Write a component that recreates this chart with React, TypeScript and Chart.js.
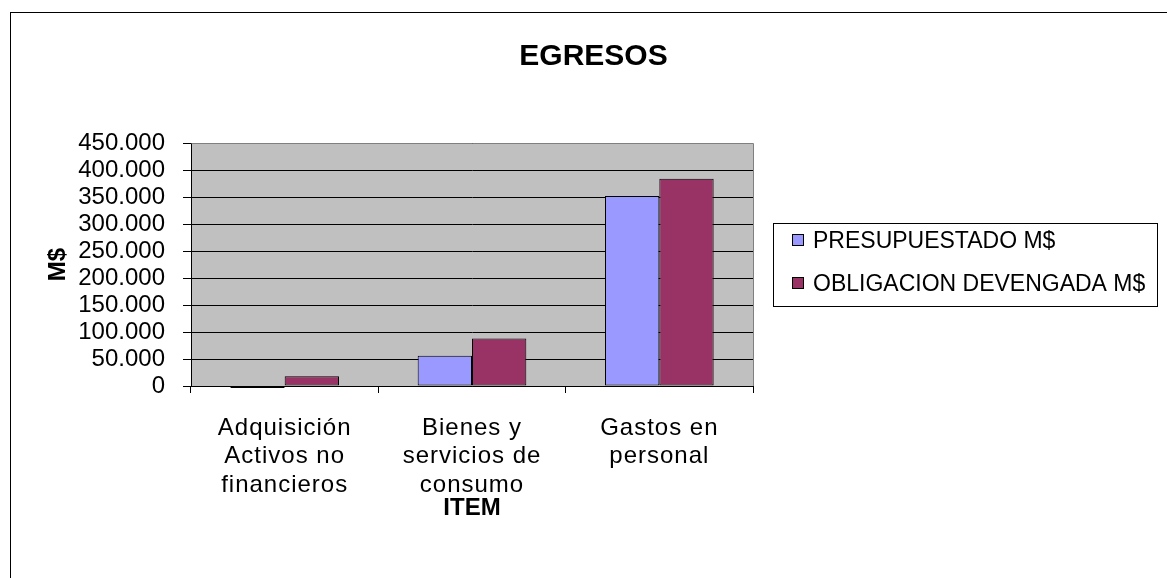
import React, { useEffect, useRef } from "react";
import { Chart, registerables } from "chart.js";

Chart.register(...registerables);

const categories: string[][] = [
  ["Adquisición", "Activos no", "financieros"],
  ["Bienes y", "servicios de", "consumo"],
  ["Gastos en", "personal"],
];
const presupuestado: number[] = [-3500, 56000, 352000];
const obligacion: number[] = [18000, 88000, 384000];
const seriesNames: string[] = ["PRESUPUESTADO M$", "OBLIGACION DEVENGADA M$"];
const yMin = 0;
const yMax = 450000;
const yStep = 50000;

const FONT = "'Liberation Sans', Arial, Helvetica, sans-serif";

const fmt = (v: number) =>
  String(v).replace(/\B(?=(\d{3})+(?!\d))/g, ".");

const framePlugin = {
  id: "frame",
  beforeDraw(chart: any) {
    const { ctx, chartArea: a } = chart;
    ctx.save();
    ctx.fillStyle = "#ffffff";
    ctx.fillRect(0, 0, chart.width, chart.height);
    ctx.fillStyle = "#C0C0C0";
    ctx.fillRect(a.left, a.top, a.right - a.left, a.bottom - a.top);
    ctx.restore();
  },
  afterDraw(chart: any) {
    const { ctx, chartArea: a } = chart;
    ctx.save();
    ctx.strokeStyle = "#808080";
    ctx.lineWidth = 1;
    ctx.beginPath();
    ctx.moveTo(Math.round(a.left) + 0.5, Math.round(a.top) + 0.5);
    ctx.lineTo(Math.round(a.right) + 0.5, Math.round(a.top) + 0.5);
    ctx.lineTo(Math.round(a.right) + 0.5, Math.round(a.bottom));
    ctx.stroke();
    ctx.strokeStyle = "#000000";
    ctx.strokeRect(10.5, 12.5, 3000, 3000);
    const lx = 773.5, ly = 223.5, lw = 384, lh = 83;
    ctx.fillStyle = "#ffffff";
    ctx.fillRect(lx, ly, lw, lh);
    ctx.strokeStyle = "#000000";
    ctx.strokeRect(lx, ly, lw, lh);
    const rows = [241, 284];
    chart.data.datasets.forEach((ds: any, i: number) => {
      const cy = rows[i];
      ctx.fillStyle = ds.backgroundColor;
      ctx.fillRect(792.5, cy - 6.5, 11, 11);
      ctx.strokeStyle = "#000000";
      ctx.strokeRect(792.5, cy - 6.5, 11, 11);
      ctx.fillStyle = "#000000";
      ctx.font = `23px ${FONT}`;
      ctx.textBaseline = "middle";
      ctx.textAlign = "left";
      ctx.fillText(ds.label, 813, cy + 1);
    });
    ctx.restore();
  },
};

export default function App() {
  const ref = useRef<HTMLCanvasElement | null>(null);
  useEffect(() => {
    if (!ref.current) return;
    const chart = new Chart(ref.current, {
      type: "bar",
      data: {
        labels: categories,
        datasets: [
          {
            label: seriesNames[0],
            data: presupuestado,
            backgroundColor: "#9999FF",
            borderColor: "#000000",
            borderWidth: 1,
            borderSkipped: false,
            clip: false,
          } as any,
          {
            label: seriesNames[1],
            data: obligacion,
            backgroundColor: "#993366",
            borderColor: "#000000",
            borderWidth: 1,
            borderSkipped: false,
            clip: false,
          } as any,
        ],
      },
      options: {
        responsive: false,
        animation: false,
        devicePixelRatio: 1,
        layout: { padding: { left: 20, right: 0, top: 0, bottom: 0 } },
        datasets: { bar: { categoryPercentage: 0.58, barPercentage: 1.0 } },
        plugins: {
          legend: { display: false },
          tooltip: { enabled: false },
          title: {
            display: true,
            text: "EGRESOS",
            color: "#000000",
            font: { family: FONT, size: 30, weight: "bold", lineHeight: 1.2 },
            padding: { top: 39, bottom: 68 },
          },
        },
        scales: {
          x: {
            type: "category",
            position: "bottom",
            offset: true,
            grid: {
              offset: true,
              drawOnChartArea: false,
              drawTicks: true,
              tickLength: 7,
              color: "#000000",
            },
            border: { display: true, color: "#000000", width: 1 },
            ticks: {
              color: "#000000",
              font: { family: FONT, size: 24, lineHeight: 1.19 },
              padding: 21,
              maxRotation: 0,
              minRotation: 0,
              autoSkip: false,
            },
            title: {
              display: true,
              text: "ITEM",
              color: "#000000",
              font: { family: FONT, size: 24, weight: "bold", lineHeight: 1.2 },
              padding: { top: 0, bottom: 55.6 },
            },
            afterFit(s: any) {
              s.height = 192;
              if (!s._lsWrapped) {
                const orig = s.drawLabels.bind(s);
                s.drawLabels = (ca: any) => {
                  const c = s.ctx;
                  const prev = c.letterSpacing;
                  c.letterSpacing = "1px";
                  orig(ca);
                  c.letterSpacing = prev || "0px";
                };
                s._lsWrapped = true;
              }
            },
          },
          y: {
            type: "linear",
            position: "left",
            min: yMin,
            max: yMax,
            grid: {
              color: "#000000",
              lineWidth: 1,
              drawTicks: true,
              tickLength: 8,
            },
            border: { display: true, color: "#000000", width: 1 },
            ticks: {
              stepSize: yStep,
              color: "#000000",
              font: { family: FONT, size: 24 },
              padding: 18,
              autoSkip: false,
              callback: (v: any) => fmt(Number(v)),
            },
            title: {
              display: true,
              text: "M$",
              color: "#000000",
              font: { family: FONT, size: 24, weight: "bold", lineHeight: 1.2 },
              padding: { top: 23.6, bottom: 0 },
            },
            afterFit(s: any) {
              s.width = 171;
            },
          },
          pad: {
            type: "linear",
            position: "right",
            display: true,
            grid: { display: false, drawTicks: false },
            border: { display: false },
            ticks: { display: false },
            afterFit(s: any) {
              s.width = 414;
            },
          },
        },
      } as any,
      plugins: [framePlugin],
    });
    return () => chart.destroy();
  }, []);
  return (
    <div style={{ position: "absolute", left: 0, top: 0, width: 1167, height: 578 }}>
      <canvas ref={ref} width={1167} height={578} style={{ display: "block" }} />
    </div>
  );
}
